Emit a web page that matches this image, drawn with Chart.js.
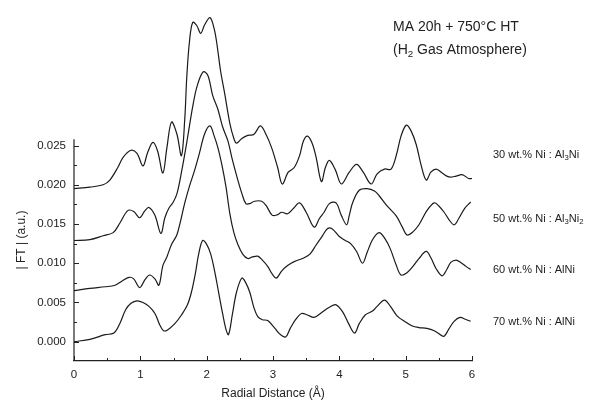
<!DOCTYPE html>
<html>
<head>
<meta charset="utf-8">
<script src="https://cdn.jsdelivr.net/npm/chart.js@4.4.0/dist/chart.umd.min.js"></script>
<style>
  html, body { margin: 0; padding: 0; background: #fff; }
  #wrap { width: 603px; height: 405px; }
</style>
</head>
<body>
<div id="wrap"><canvas id="myChart" width="603" height="405"></canvas></div>
<script>
// radial distance (A) and |FT| values, one pair per sample
var r30 = [0, 0.24, 0.44, 0.54, 0.66, 0.74, 0.86, 0.95, 1.04, 1.11, 1.19, 1.26, 1.34, 1.40, 1.47, 1.55, 1.62, 1.67, 1.70, 1.74, 1.79, 1.85, 1.91, 1.97, 2.05, 2.11, 2.15, 2.21, 2.27, 2.35, 2.41, 2.45, 2.53, 2.62, 2.71, 2.81, 2.89, 2.98, 3.07, 3.14, 3.23, 3.32, 3.40, 3.46, 3.52, 3.59, 3.65, 3.73, 3.79, 3.85, 3.94, 4.03, 4.15, 4.26, 4.36, 4.48, 4.57, 4.68, 4.78, 4.86, 4.93, 5.01, 5.08, 5.16, 5.23, 5.31, 5.38, 5.46, 5.55, 5.65, 5.76, 5.85, 5.95, 6.0];
var ft30 = [0.0195, 0.0197, 0.0200, 0.0206, 0.0222, 0.0235, 0.0244, 0.0240, 0.0224, 0.0241, 0.0254, 0.0243, 0.0215, 0.0247, 0.0280, 0.0265, 0.0237, 0.0284, 0.0337, 0.0382, 0.0407, 0.0403, 0.0393, 0.0404, 0.0413, 0.0400, 0.0382, 0.0345, 0.0317, 0.0278, 0.0259, 0.0253, 0.0259, 0.0263, 0.0264, 0.0275, 0.0265, 0.0247, 0.0222, 0.0201, 0.0216, 0.0222, 0.0237, 0.0256, 0.0262, 0.0253, 0.0235, 0.0204, 0.0222, 0.0231, 0.0219, 0.0201, 0.0216, 0.0226, 0.0216, 0.0201, 0.0214, 0.0220, 0.0220, 0.0238, 0.0262, 0.0276, 0.0269, 0.0251, 0.0226, 0.0206, 0.0216, 0.0220, 0.0215, 0.0210, 0.0211, 0.0213, 0.0208, 0.0208];

var r50 = [0, 0.24, 0.44, 0.59, 0.69, 0.81, 0.90, 0.99, 1.07, 1.13, 1.22, 1.31, 1.37, 1.43, 1.49, 1.55, 1.62, 1.71, 1.79, 1.86, 1.95, 2.02, 2.09, 2.17, 2.24, 2.32, 2.39, 2.47, 2.53, 2.59, 2.65, 2.72, 2.83, 2.90, 2.99, 3.07, 3.13, 3.22, 3.31, 3.40, 3.50, 3.62, 3.70, 3.77, 3.85, 3.95, 4.03, 4.11, 4.15, 4.20, 4.30, 4.42, 4.53, 4.60, 4.72, 4.86, 4.95, 5.02, 5.11, 5.20, 5.32, 5.43, 5.50, 5.58, 5.65, 5.73, 5.80, 5.89, 5.98];
var ft50 = [0.0129, 0.0130, 0.0135, 0.0139, 0.0151, 0.0167, 0.0166, 0.0158, 0.0167, 0.0171, 0.0161, 0.0138, 0.0158, 0.0170, 0.0177, 0.0188, 0.0216, 0.0259, 0.0300, 0.0327, 0.0344, 0.0339, 0.0314, 0.0296, 0.0274, 0.0256, 0.0231, 0.0206, 0.0189, 0.0176, 0.0176, 0.0179, 0.0179, 0.0173, 0.0161, 0.0162, 0.0165, 0.0163, 0.0170, 0.0177, 0.0165, 0.0146, 0.0157, 0.0165, 0.0176, 0.0177, 0.0161, 0.0149, 0.0161, 0.0177, 0.0193, 0.0195, 0.0192, 0.0186, 0.0173, 0.0160, 0.0146, 0.0136, 0.0140, 0.0149, 0.0167, 0.0177, 0.0173, 0.0165, 0.0156, 0.0149, 0.0157, 0.0170, 0.0178];

var r60 = [0, 0.24, 0.47, 0.62, 0.72, 0.83, 0.90, 0.99, 1.07, 1.14, 1.22, 1.28, 1.34, 1.40, 1.47, 1.55, 1.61, 1.67, 1.74, 1.82, 1.89, 1.97, 2.05, 2.11, 2.17, 2.23, 2.29, 2.35, 2.41, 2.47, 2.54, 2.62, 2.69, 2.77, 2.84, 2.92, 2.99, 3.05, 3.13, 3.22, 3.32, 3.47, 3.56, 3.64, 3.73, 3.82, 3.89, 4.00, 4.09, 4.17, 4.26, 4.35, 4.42, 4.50, 4.60, 4.69, 4.77, 4.86, 4.93, 5.02, 5.11, 5.20, 5.31, 5.38, 5.46, 5.55, 5.62, 5.68, 5.76, 5.83, 5.91, 5.98];
var ft60 = [0.0065, 0.0068, 0.0070, 0.0072, 0.0077, 0.0082, 0.0080, 0.0069, 0.0079, 0.0085, 0.0080, 0.0072, 0.0097, 0.0108, 0.0124, 0.0136, 0.0155, 0.0177, 0.0198, 0.0219, 0.0240, 0.0265, 0.0275, 0.0263, 0.0247, 0.0225, 0.0198, 0.0163, 0.0139, 0.0124, 0.0112, 0.0106, 0.0108, 0.0109, 0.0104, 0.0096, 0.0086, 0.0081, 0.0090, 0.0097, 0.0102, 0.0107, 0.0112, 0.0122, 0.0133, 0.0144, 0.0144, 0.0134, 0.0129, 0.0125, 0.0115, 0.0100, 0.0114, 0.0130, 0.0139, 0.0131, 0.0118, 0.0097, 0.0085, 0.0088, 0.0096, 0.0106, 0.0115, 0.0107, 0.0093, 0.0084, 0.0092, 0.0101, 0.0104, 0.0101, 0.0096, 0.0092];

var r70 = [0, 0.24, 0.47, 0.60, 0.69, 0.78, 0.86, 0.95, 1.04, 1.13, 1.22, 1.29, 1.35, 1.41, 1.52, 1.62, 1.71, 1.77, 1.83, 1.88, 1.94, 2.00, 2.06, 2.12, 2.18, 2.24, 2.29, 2.33, 2.39, 2.45, 2.53, 2.59, 2.65, 2.71, 2.77, 2.84, 2.92, 3.02, 3.10, 3.19, 3.26, 3.34, 3.43, 3.52, 3.62, 3.73, 3.85, 3.95, 4.05, 4.14, 4.23, 4.30, 4.39, 4.50, 4.57, 4.68, 4.77, 4.87, 4.98, 5.10, 5.20, 5.32, 5.43, 5.52, 5.58, 5.65, 5.73, 5.82, 5.89, 5.98];
var ft70 = [0.0000, 0.0003, 0.0009, 0.0011, 0.0023, 0.0041, 0.0049, 0.0052, 0.0050, 0.0045, 0.0036, 0.0022, 0.0014, 0.0015, 0.0023, 0.0034, 0.0047, 0.0063, 0.0087, 0.0112, 0.0129, 0.0124, 0.0112, 0.0090, 0.0063, 0.0036, 0.0016, 0.0009, 0.0036, 0.0063, 0.0081, 0.0075, 0.0063, 0.0044, 0.0032, 0.0028, 0.0027, 0.0018, 0.0010, 0.0006, 0.0017, 0.0028, 0.0036, 0.0034, 0.0031, 0.0037, 0.0044, 0.0047, 0.0038, 0.0023, 0.0011, 0.0023, 0.0034, 0.0039, 0.0045, 0.0053, 0.0045, 0.0033, 0.0026, 0.0020, 0.0018, 0.0017, 0.0014, 0.0009, 0.0007, 0.0016, 0.0026, 0.0031, 0.0029, 0.0026];

var yTickVals = [0, 0.005, 0.010, 0.015, 0.020, 0.025];
var xTickVals = [0, 1, 2, 3, 4, 5, 6];

// label parts: [text, isSubscript]
var sampleLabels = [
  [["30 wt.% Ni : Al", false], ["3", true], ["Ni", false]],
  [["50 wt.% Ni : Al", false], ["3", true], ["Ni", false], ["2", true]],
  [["60 wt.% Ni : AlNi", false]],
  [["70 wt.% Ni : AlNi", false]]
];
var labelY = [155, 219, 270, 322];

function pts(xs, ys) {
  var out = [];
  for (var i = 0; i < xs.length; i++) out.push({x: xs[i], y: ys[i]});
  return out;
}

function drawParts(ctx, parts, x, y, size) {
  var cx = x;
  for (var i = 0; i < parts.length; i++) {
    var sub = parts[i][1];
    ctx.font = (sub ? size * 0.7 : size) + 'px Arial, "Liberation Sans", sans-serif';
    ctx.fillText(parts[i][0], cx, sub ? y + size * 0.3 : y);
    cx += ctx.measureText(parts[i][0]).width;
  }
}

var decor = {
  id: 'decor',
  afterDraw: function(chart) {
    var ctx = chart.ctx;
    var xs = chart.scales.x, ys = chart.scales.y;
    var left = chart.chartArea.left, bottom = chart.chartArea.bottom;
    ctx.save();
    ctx.strokeStyle = '#222';
    ctx.lineWidth = 1.2;
    // left axis only runs up to just past the last tick
    ctx.beginPath();
    ctx.moveTo(left, ys.getPixelForValue(0.0258));
    ctx.lineTo(left, bottom);
    ctx.stroke();
    ctx.lineWidth = 1;
    ctx.beginPath();
    for (var v = 0; v <= 0.0251; v += 0.0025) {
      var py = Math.round(ys.getPixelForValue(v)) + 0.5;
      var major = Math.abs(v / 0.005 - Math.round(v / 0.005)) < 0.01;
      ctx.moveTo(left, py);
      ctx.lineTo(left + (major ? 5 : 3), py);
    }
    for (var t = 0; t <= 6; t += 0.5) {
      var px = Math.round(xs.getPixelForValue(t)) + 0.5;
      ctx.moveTo(px, bottom);
      ctx.lineTo(px, bottom - (t % 1 == 0 ? 5 : 3));
    }
    ctx.stroke();

    ctx.fillStyle = '#222';
    // y title
    ctx.save();
    ctx.translate(22, 240);
    ctx.rotate(-Math.PI / 2);
    ctx.textAlign = 'center';
    ctx.textBaseline = 'middle';
    ctx.font = '12px Arial, "Liberation Sans", sans-serif';
    ctx.fillText('| FT | (a.u.)', 0, 0);
    ctx.restore();

    ctx.textAlign = 'left';
    ctx.textBaseline = 'middle';
    for (var i = 0; i < sampleLabels.length; i++) {
      drawParts(ctx, sampleLabels[i], 493, labelY[i], 11);
    }
    ctx.font = '14px Arial, "Liberation Sans", sans-serif';
    ctx.fillText('MA 20h + 750\u00B0C HT', 393, 27);
    drawParts(ctx, [["(H", false], ["2", true], [" Gas Atmosphere)", false]], 393, 50, 14);
    ctx.restore();
  }
};

var ctx = document.getElementById('myChart').getContext('2d');
var lineStyle = {borderColor: '#1a1a1a', borderWidth: 1.2, pointRadius: 0, tension: 0.35, fill: false};
var datasets = [pts(r30, ft30), pts(r50, ft50), pts(r60, ft60), pts(r70, ft70)].map(function(d) {
  return Object.assign({data: d}, lineStyle);
});

var myChart = new Chart(ctx, {
  type: 'line',
  data: {datasets: datasets},
  options: {
    responsive: false,
    animation: false,
    layout: {padding: {left: 0, right: 131, top: 2, bottom: 0}},
    plugins: {legend: {display: false}, tooltip: {enabled: false}},
    scales: {
      x: {
        type: 'linear', min: 0, max: 6,
        afterFit: function(s) { s.height = 44; },
        afterBuildTicks: function(s) { s.ticks = xTickVals.map(function(v) { return {value: v}; }); },
        grid: {display: false, drawTicks: false},
        border: {display: true, color: '#222', width: 1.2},
        ticks: {color: '#222', padding: 7, font: {family: 'Arial', size: 11.5}, maxRotation: 0},
        title: {display: true, text: 'Radial Distance (\u00C5)', color: '#222', font: {family: 'Arial', size: 12}, padding: {top: 0, bottom: 4}}
      },
      y: {
        type: 'linear', min: -0.00246, max: 0.04165,
        afterFit: function(s) { s.width = 74; },
        afterBuildTicks: function(s) { s.ticks = yTickVals.map(function(v) { return {value: v}; }); },
        grid: {display: false, drawTicks: false},
        border: {display: false},
        ticks: {color: '#222', padding: 8, font: {family: 'Arial', size: 11.5},
          callback: function(v) { return v.toFixed(3); }}
      }
    }
  },
  plugins: [decor]
});
</script>
</body>
</html>
